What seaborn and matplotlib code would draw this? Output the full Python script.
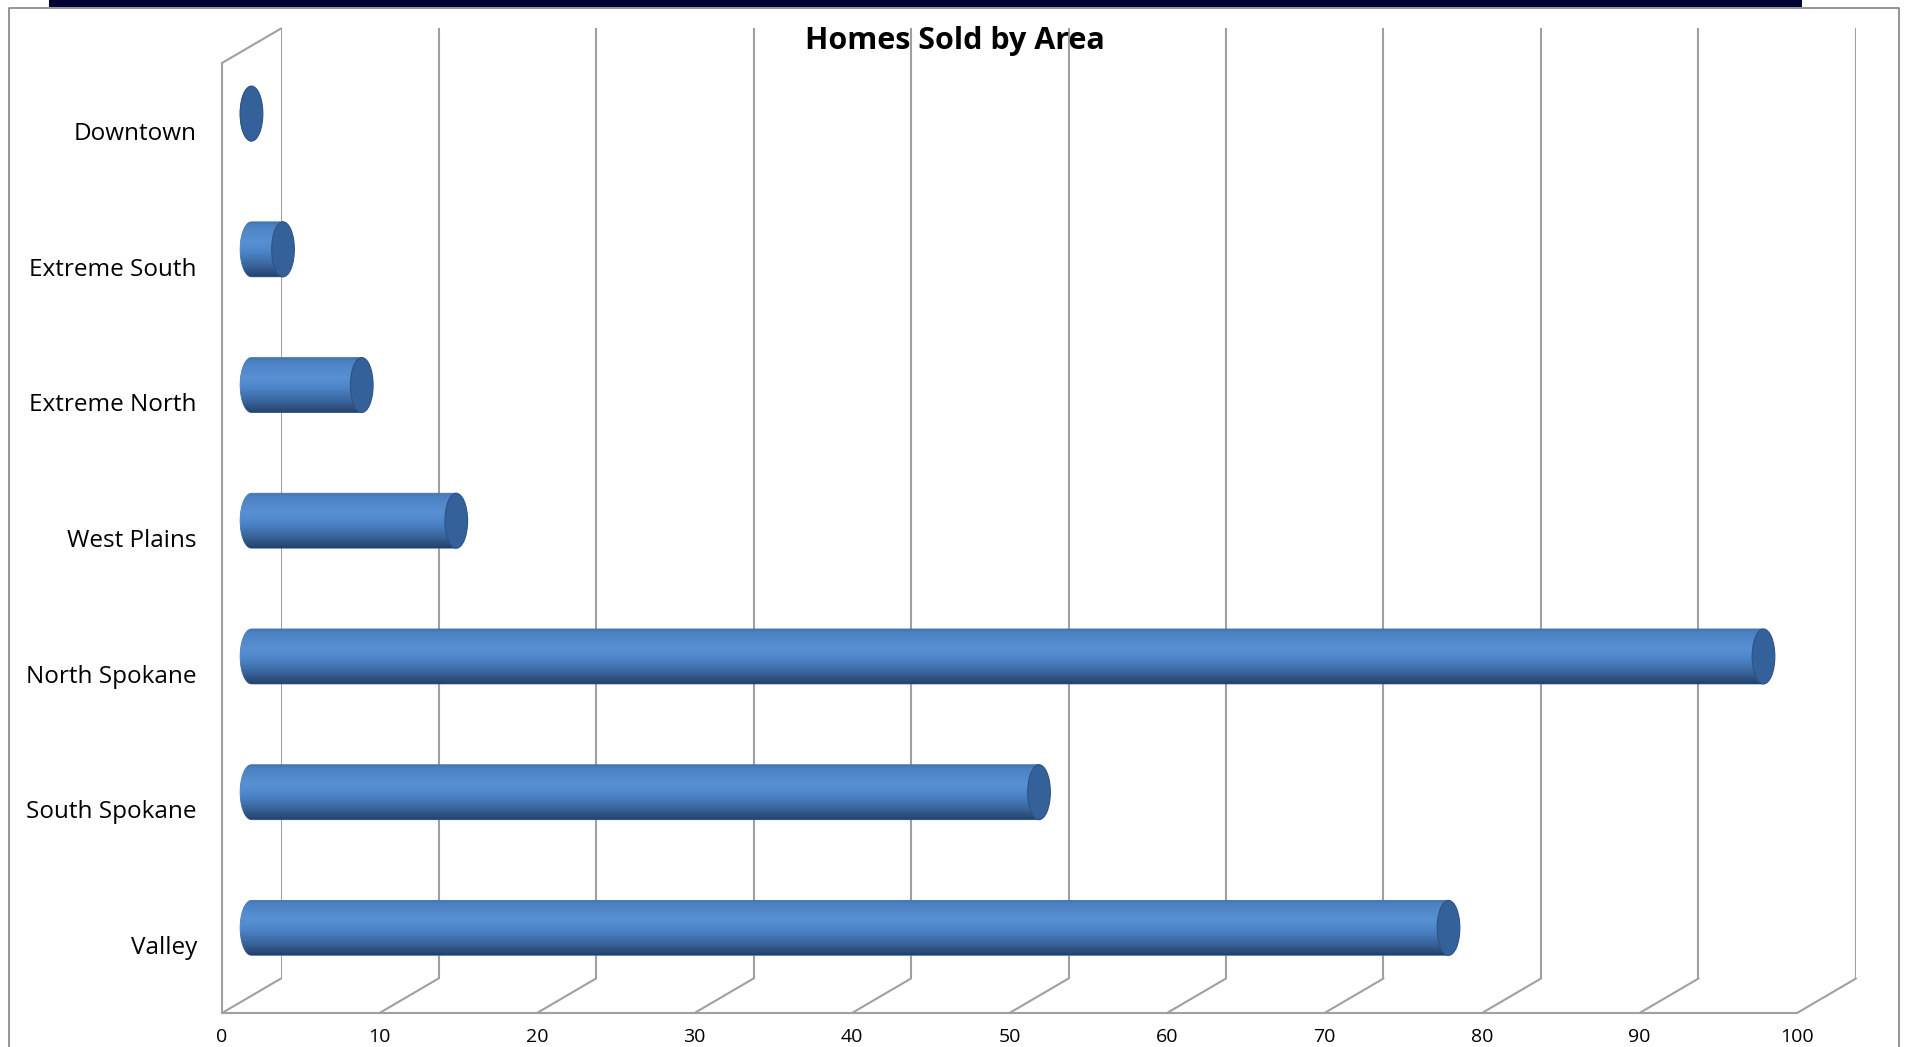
import numpy as np
import pandas as pd
import matplotlib
matplotlib.use("Agg")
import matplotlib.pyplot as plt
import seaborn as sns
from matplotlib.patches import Ellipse, PathPatch, Rectangle, ConnectionPatch
from matplotlib.path import Path
from matplotlib.lines import Line2D
from matplotlib.colors import LinearSegmentedColormap

# ---------------- data ----------------
categories = ["Downtown", "Extreme South", "Extreme North", "West Plains",
              "North Spokane", "South Spokane", "Valley"]
homes_sold = [0, 2, 7, 13, 96, 50, 76]
x_ticks = [0, 10, 20, 30, 40, 50, 60, 70, 80, 90, 100]
chart_title = "Homes Sold by Area"

# ---------------- style ----------------
sns.set_theme(style="white")
plt.rcParams["font.family"] = ["Open Sans", "DejaVu Sans"]

W, H = 1906, 1047
fig = plt.figure(figsize=(W / 100, H / 100), dpi=100)
fig.patch.set_facecolor("white")

GRID = "#a0a0a0"


def rect(x0, ytop, x1, ybot):
    return [x0 / W, 1 - ybot / H, (x1 - x0) / W, (ybot - ytop) / H]


FX0, FX1, FY0, FY1 = 222, 1797, 63, 1013
PXU = (FX1 - FX0) / 100.0          # pixels per value unit
DX, DY = 59, -34.5
XPAD = 2.0                          # room on the left of the mid plane for the rounded ends

ax_b = fig.add_axes(rect(FX0 + DX, FY0 + DY, FX1 + DX, FY1 + DY))
ax_m = fig.add_axes(rect(FX0 + DX / 2 - XPAD * PXU, FY0 + DY / 2,
                         FX1 + DX / 2, FY1 + DY / 2))
ax_f = fig.add_axes(rect(FX0, FY0, FX1, FY1))

n = len(categories)
YLIM = (n - 0.5, -0.5)

# ---------------- back wall ----------------
ax_b.set_facecolor("none")
ax_b.set_xlim(0, 100)
ax_b.set_ylim(*YLIM)
for s in ax_b.spines.values():
    s.set_visible(False)
ax_b.set_xticks(x_ticks)
ax_b.set_yticks([])
ax_b.tick_params(length=0, labelbottom=False, labelleft=False)
ax_b.grid(axis="x", color=GRID, lw=1.5)

# ---------------- bars (mid depth plane) ----------------
df = pd.DataFrame({"Area": categories, "Homes Sold": homes_sold})
sns.barplot(data=df, x="Homes Sold", y="Area", orient="h", width=0.405,
            color="#4f81bd", ax=ax_m)
ax_m.set_facecolor("none")

cmap = LinearSegmentedColormap.from_list(
    "cyl",
    [(0.0, "#4274b0"), (0.06, "#4c82c3"), (0.35, "#5890d4"), (0.55, "#4c84c7"),
     (0.8, "#38639a"), (0.93, "#2c4d7c"), (1.0, "#243f66")])
grad = np.linspace(0, 1, 256).reshape(-1, 1)
RX = 0.72  # half-width of the end ellipse in data units

for p in list(ax_m.patches):
    x0, y0, w, h = p.get_x(), p.get_y(), p.get_width(), p.get_height()
    yc = y0 + h / 2
    ry = h / 2
    p.set_facecolor("none")
    p.set_edgecolor("none")
    t = np.linspace(np.pi / 2, 3 * np.pi / 2, 40)
    verts = [(x0 + w, yc + ry), (x0, yc + ry)]
    verts += list(zip(x0 + RX * np.cos(t), yc + ry * np.sin(t)))
    verts += [(x0, yc - ry), (x0 + w, yc - ry), (x0 + w, yc + ry)]
    codes = [Path.MOVETO] + [Path.LINETO] * (len(verts) - 2) + [Path.CLOSEPOLY]
    body = PathPatch(Path(verts, codes), facecolor="none", edgecolor="#3f6ea6",
                     lw=0.6, zorder=2)
    ax_m.add_patch(body)
    im = ax_m.imshow(grad, cmap=cmap, aspect="auto", interpolation="bilinear",
                     extent=[x0 - RX, x0 + w + 0.01, yc + ry, yc - ry], zorder=2)
    im.set_clip_path(body)
    cap = Ellipse((x0 + w, yc), 2 * RX, h, facecolor="#35619a",
                  edgecolor="#2d5385", lw=0.8, zorder=3)
    ax_m.add_patch(cap)

ax_m.set_xlim(-XPAD, 100)
ax_m.set_ylim(*YLIM)
ax_m.axis("off")

# ---------------- front plane (axes) ----------------
ax_f.set_facecolor("none")
ax_f.set_xlim(0, 100)
ax_f.set_ylim(*YLIM)
for side in ["top", "right"]:
    ax_f.spines[side].set_visible(False)
for side in ["left", "bottom"]:
    ax_f.spines[side].set_color(GRID)
    ax_f.spines[side].set_linewidth(1.5)
ax_f.set_xticks(x_ticks)
ax_f.set_xticklabels([str(v) for v in x_ticks])
ax_f.tick_params(axis="x", direction="out", length=4, width=1.2, color=GRID,
                 labelsize=14, pad=6.5, labelcolor="black")
ax_f.set_yticks(range(n))
ax_f.set_yticklabels(categories)
ax_f.tick_params(axis="y", which="major", length=0, pad=18, labelsize=17.5,
                 labelcolor="black")
ax_f.set_yticks(np.arange(-0.5, n, 1.0), minor=True)
ax_f.tick_params(axis="y", which="minor", direction="out", length=4.5,
                 width=1.2, color=GRID)
ax_f.set_xlabel("")
ax_f.set_ylabel("")

# floor diagonals and left-wall top edge
for v in x_ticks:
    cp = ConnectionPatch(xyA=(v, YLIM[0]), coordsA=ax_f.transData,
                         xyB=(v, YLIM[0]), coordsB=ax_b.transData,
                         color=GRID, lw=1.5)
    fig.add_artist(cp)
cp = ConnectionPatch(xyA=(0, YLIM[1]), coordsA=ax_f.transData,
                     xyB=(0, YLIM[1]), coordsB=ax_b.transData,
                     color=GRID, lw=1.5)
fig.add_artist(cp)

# ---------------- title & frame ----------------
fig.text(955 / W, 1 - 41 / H, chart_title, ha="center", va="center",
         fontsize=22, fontweight="bold", color="black")

fig.add_artist(Line2D([9 / W, 9 / W, 1899 / W, 1899 / W],
                      [0, 1 - 8 / H, 1 - 8 / H, 0],
                      transform=fig.transFigure, color="#8c8c8c", lw=1.3))
fig.add_artist(Rectangle((49 / W, 1 - 7 / H), (1802 - 49) / W, 7 / H,
                         transform=fig.transFigure, facecolor="#000033",
                         edgecolor="none"))

fig.savefig("out.png", dpi=100, facecolor="white")
